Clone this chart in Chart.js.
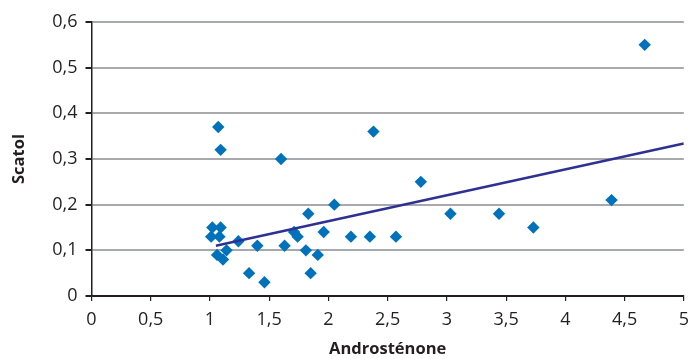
<!DOCTYPE html>
<html>
<head>
<meta charset="utf-8">
<script src="https://cdn.jsdelivr.net/npm/chart.js@4/dist/chart.umd.min.js"></script>
<style>
  html, body { margin: 0; padding: 0; background: #fff; }
</style>
</head>
<body>
<canvas id="grafica" width="690" height="359"></canvas>
<script>
// DATOS
const androstenone = [1.02, 1.09, 1.01, 1.08, 1.07, 1.09, 1.60, 1.06, 1.11, 1.14, 1.24, 1.40, 1.33, 1.46, 1.63, 1.71, 1.74,
  1.83, 1.81, 1.85, 1.91, 1.96, 2.05, 2.19, 2.35, 2.38, 2.57, 2.78, 3.03, 3.44, 3.73, 4.39, 4.67];
const scatol = [0.15, 0.15, 0.13, 0.13, 0.37, 0.32, 0.30, 0.09, 0.08, 0.10, 0.12, 0.11, 0.05, 0.03, 0.11, 0.14, 0.13,
  0.18, 0.10, 0.05, 0.09, 0.14, 0.20, 0.13, 0.13, 0.36, 0.13, 0.25, 0.18, 0.18, 0.15, 0.21, 0.55];

// LINEA DE TENDENCIA (EXTREMOS)
const tendenciaX = [1.05, 5];
const tendenciaY = [0.110, 0.334];

const etiquetasX = ['0', '0,5', '1', '1,5', '2', '2,5', '3', '3,5', '4', '4,5', '5'];
const etiquetasY = ['0', '0,1', '0,2', '0,3', '0,4', '0,5', '0,6'];

const canvas = document.getElementById('grafica');
const colorTexto = '#231f20';
const fuente = "'Open Sans', 'Noto Sans', sans-serif";

const puntos = androstenone.map((x, i) => ({ x: x, y: scatol[i] }));
const tendencia = tendenciaX.map((x, i) => ({ x: x, y: tendenciaY[i] }));

const config = {
  type: 'scatter',
  data: {
    datasets: [
      {
        data: tendencia,
        showLine: true,
        borderColor: '#2e3192',
        borderWidth: 2.5,
        pointRadius: 0,
        order: 1
      },
      {
        data: puntos,
        pointStyle: 'rectRot',
        pointRadius: 6.2,
        backgroundColor: '#0072bc',
        borderColor: '#0072bc',
        borderWidth: 0,
        order: 2
      }
    ]
  },
  options: {
    responsive: false,
    animation: false,
    events: [],
    layout: { padding: { top: 22, right: 5, left: 0, bottom: 0 } },
    plugins: { legend: { display: false }, tooltip: { enabled: false } },
    scales: {
      x: {
        type: 'linear',
        min: 0,
        max: 5,
        afterFit: (scale) => {
          scale.height = 63;
          scale.paddingLeft = 0;
          scale.paddingRight = 0;
        },
        ticks: {
          stepSize: 0.5,
          color: colorTexto,
          font: { family: fuente, size: 18 },
          padding: 8,
          maxRotation: 0,
          callback: (value, index) => etiquetasX[index]
        },
        grid: { drawOnChartArea: false, color: '#231f20', tickLength: 5, lineWidth: 1.2 },
        border: { color: '#231f20', width: 1.5 },
        title: {
          display: true,
          text: 'Androsténone',
          color: colorTexto,
          font: { family: fuente, size: 16.5, weight: 'bold' },
          padding: { top: 0, bottom: 0 }
        }
      },
      y: {
        type: 'linear',
        min: 0,
        max: 0.6,
        afterFit: (scale) => {
          scale.width = 91.5;
          scale.paddingTop = 0;
          scale.paddingBottom = 0;
        },
        ticks: {
          stepSize: 0.1,
          color: colorTexto,
          font: { family: fuente, size: 18 },
          padding: 8,
          callback: (value, index) => etiquetasY[index]
        },
        grid: {
          color: (ctx) => (ctx.tick && ctx.tick.value === 0 ? '#231f20' : '#a7a9ac'),
          tickColor: '#231f20',
          lineWidth: 2,
          tickLength: 6
        },
        border: { color: '#231f20', width: 1.5 },
        title: {
          display: true,
          text: 'Scatol',
          color: colorTexto,
          font: { family: fuente, size: 16.5, weight: 'bold' },
          padding: { top: 9, bottom: 0 }
        }
      }
    }
  }
};

new Chart(canvas, config);
</script>
</body>
</html>
